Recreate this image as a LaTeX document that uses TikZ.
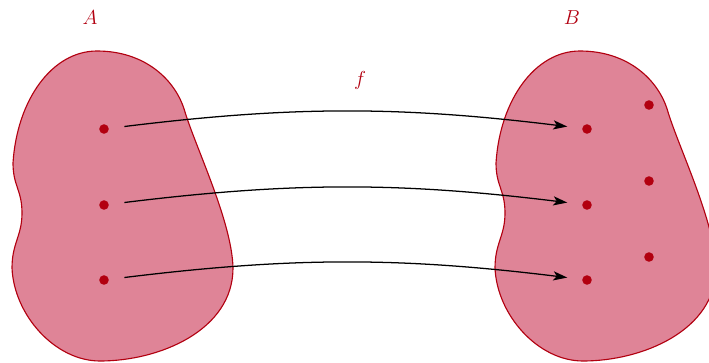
\documentclass[tikz,border=0pt]{standalone}
\usepackage{amsmath,amssymb}
\usepackage{xcolor}
\usetikzlibrary{arrows.meta}
\definecolor{setred}{HTML}{B20010}
\definecolor{setfill}{HTML}{DF8497}

\begin{document}
\begin{tikzpicture}[x=0.025cm, y=-0.025cm, >={Stealth[length=10pt, width=6.5pt, inset=2.5pt]},
    blob/.style={draw=setred, thick, fill=setfill},
    elem/.style={circle, fill=setred, inner sep=0pt, minimum size=6.8pt},
    setlabel/.style={text=setred, font=\Large},
    maparrow/.style={->, line width=0.9pt, shorten <=11pt, shorten >=10.5pt}]
    \useasboundingbox (0,0) rectangle (709,362);

    % Sets
    \foreach \dx in {0,483} {
        \draw[blob, xshift=\dx*0.025cm] (97,51) .. controls (145,51) and (176,80) .. (185,112)
            .. controls (196,148) and (232,222) .. (233,268)
            .. controls (233,330) and (160,361) .. (100,361)
            .. controls (55,361) and (14,315) .. (12,268)
            .. controls (12,243) and (22,236) .. (22,213)
            .. controls (22,190) and (13,186) .. (13,163)
            .. controls (17,100) and (52,51) .. (97,51) -- cycle;
    }

    % Labels
    \node[setlabel] (labA) at (90,18) {$A$};
    \node[setlabel] (labB) at (572,18) {$B$};
    \node[setlabel] (labf) at (360,80) {$f$};

    % Elements
    \node[elem] (a1) at (104,129) {};
    \node[elem] (a2) at (104,205) {};
    \node[elem] (a3) at (104,280) {};
    \node[elem] (b1) at (587,129) {};
    \node[elem] (b2) at (587,205) {};
    \node[elem] (b3) at (587,280) {};
    \node[elem] (b4) at (649,105) {};
    \node[elem] (b5) at (649,181) {};
    \node[elem] (b6) at (649,257) {};

    % Mapping
    \draw[maparrow] (a1) to[bend left=7] (b1);
    \draw[maparrow] (a2) to[bend left=7] (b2);
    \draw[maparrow] (a3) to[bend left=7] (b3);
\end{tikzpicture}
\end{document}
